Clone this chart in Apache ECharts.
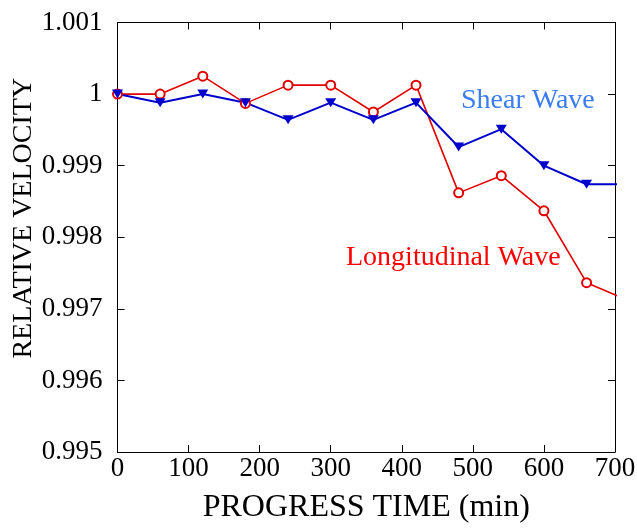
<!DOCTYPE html>
<html>
<head>
<meta charset="utf-8">
<script src="https://cdn.jsdelivr.net/npm/echarts@6/dist/echarts.min.js"></script>
<style>
  html, body { margin: 0; padding: 0; background: #fff; }
  #chart { width: 637px; height: 528px; }
</style>
</head>
<body>
<div id="chart"></div>
<script>
// progress time (min); last point lies past 700 and is clipped
var times = [0, 60, 120, 180, 240, 300, 360, 420, 480, 540, 600, 660, 720];
var longitudinal = [1.0000, 1.0000, 1.00025, 0.99987, 1.000125, 1.000125, 0.99975, 1.000125, 0.99862, 0.99886, 0.99837, 0.997365, 0.99711];
var shear = [1.0000, 0.99988, 1.0000, 0.99988, 0.99964, 0.99988, 0.99964, 0.99988, 0.99926, 0.99951, 0.99900, 0.99874, 0.99874];

var xMin = 0, xMax = 700, xStep = 100;
var yMin = 0.995, yMax = 1.001, yStep = 0.001;

var font = "'Liberation Serif', 'Times New Roman', Times, serif";

function pairs(xs, ys) {
  var out = [];
  for (var i = 0; i < xs.length; i++) {
    out.push([xs[i], ys[i]]);
  }
  return out;
}

var myChart = echarts.init(document.getElementById('chart'));

var tickStyle = { show: true, inside: true, length: 7, lineStyle: { color: '#000', width: 1 } };
var lineStyle = { show: true, onZero: false, lineStyle: { color: '#000', width: 1 } };

var option = {
  backgroundColor: '#fff',
  animation: false,
  textStyle: { fontFamily: font },
  grid: { left: 117.5, right: 22, top: 22.5, bottom: 76, containLabel: false, outerBoundsMode: 'none' },
  title: [{
    text: 'Shear Wave', left: 461, top: 87, padding: 0,
    textStyle: { color: '#3a7df0', fontFamily: font, fontSize: 28, fontWeight: 'normal' }
  }, {
    text: 'Longitudinal Wave', left: 346, top: 244, padding: 0,
    textStyle: { color: '#ff0000', fontFamily: font, fontSize: 28, fontWeight: 'normal' }
  }],
  xAxis: [{
    type: 'value', min: xMin, max: xMax, interval: xStep,
    axisLine: lineStyle, axisTick: tickStyle, splitLine: { show: false },
    axisLabel: { color: '#000', fontFamily: font, fontSize: 27, margin: 3 },
    name: 'PROGRESS TIME (min)', nameLocation: 'middle', nameGap: 40, nameMoveOverlap: false,
    nameTextStyle: { color: '#000', fontFamily: font, fontSize: 32 }
  }, {
    type: 'value', position: 'top', min: xMin, max: xMax, interval: xStep,
    axisLine: lineStyle, axisTick: tickStyle, splitLine: { show: false },
    axisLabel: { show: false }
  }],
  yAxis: [{
    type: 'value', min: yMin, max: yMax, interval: yStep,
    axisLine: lineStyle, axisTick: tickStyle, splitLine: { show: false },
    axisLabel: {
      color: '#000', fontFamily: font, fontSize: 27, margin: 15,
      formatter: function (v) { return parseFloat(v.toFixed(3)).toString(); }
    },
    name: 'RELATIVE VELOCITY', nameLocation: 'middle', nameGap: 80, nameMoveOverlap: false,
    nameTextStyle: { color: '#000', fontFamily: font, fontSize: 28, padding: [0, 0, 0, 38] }
  }, {
    type: 'value', position: 'right', min: yMin, max: yMax, interval: yStep,
    axisLine: lineStyle, axisTick: tickStyle, splitLine: { show: false },
    axisLabel: { show: false }
  }],
  series: [{
    name: 'Longitudinal Wave', type: 'line', clip: true,
    data: pairs(times, longitudinal),
    symbol: 'emptyCircle', symbolSize: 9,
    itemStyle: { color: '#e00000', borderWidth: 1 },
    lineStyle: { color: '#e00000', width: 1.6 }
  }, {
    name: 'Shear Wave', type: 'line', clip: true,
    data: pairs(times, shear),
    symbol: 'triangle', symbolRotate: 180, symbolSize: [11, 9],
    itemStyle: { color: '#0000cc' },
    lineStyle: { color: '#0000cc', width: 2 }
  }]
};

myChart.setOption(option);
</script>
</body>
</html>
